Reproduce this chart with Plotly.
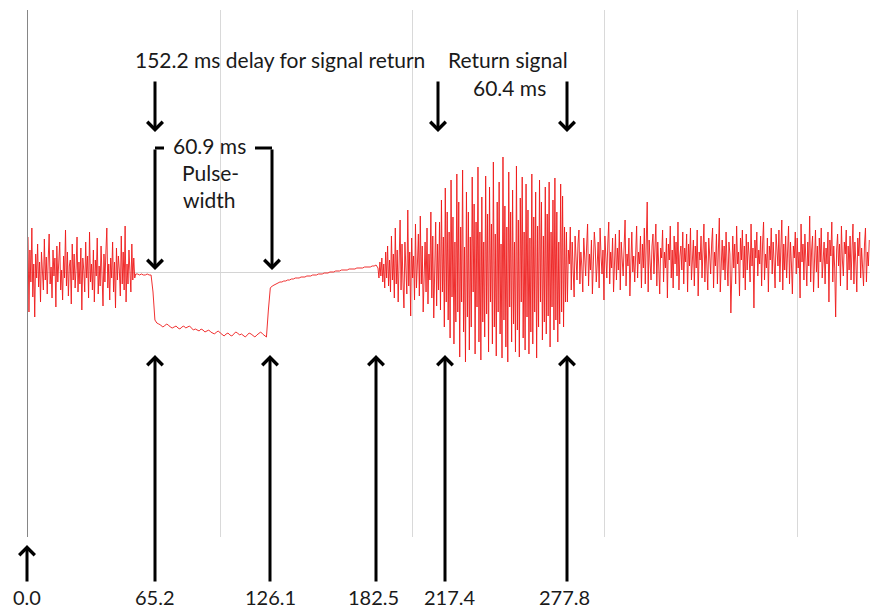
import plotly.graph_objects as go

# ---------------- data (signal amplitude) ----------------
# segment start times (ms) and sample spacing (ms) per segment
seg_starts = [0, 56, 65, 126, 182, 214, 280]
seg_steps = [0.5, 1.0, 1.0, 1.0, 0.5, 0.5, 0.5]

noise_before = [
    35, -40, 22, -10, 44, -25, 8, -45, 18, -6,
    28, -15, 10, -30, 20, 4, -18, 33, -8, 15,
    -22, 12, 38, -12, 5, -26, 22, -4, 14, -35,
    26, -10, 8, 30, -18, 2, -28, 16, -6, 42,
    -14, 20, -24, 6, 12, -32, 28, -8, 18, -16,
    4, 35, -20, 10, -12, 24, -38, 14, 2, -20,
    30, -6, 16, -26, 40, -10, 8, -18, 22, -30,
    12, -4, 34, -22, 6, -14, 26, 0, -34, 18,
    -10, 20, 44, -16, 8, -28, 14, -6, 30, -20,
    10, -36, 24, -8, 16, 2, -24, 36, -12, 20,
    -18, 46, -30, 8, -12, 22, -4, -20, 28, -8,
    14, -6,
]
quiet = [-2, -2, -3, -2, -3, -3, -2, -3, -3]
pulse = [
    -20, -48, -51, -52, -53, -55, -54, -52, -53, -55,
    -56, -55, -54, -56, -57, -55, -54, -56, -55, -54,
    -56, -58, -57, -58, -59, -57, -58, -60, -59, -58,
    -60, -61, -62, -60, -59, -61, -63, -64, -62, -61,
    -63, -64, -62, -60, -61, -63, -62, -64, -65, -63,
    -61, -62, -64, -65, -63, -61, -60, -62, -64, -65,
    -38,
]
recovery = [
    -16, -14, -13, -12, -11, -10, -10, -9, -9, -8,
    -8, -7, -7, -6, -6, -6, -5, -5, -5, -4,
    -4, -4, -3, -3, -3, -2, -2, -2, -1, -1,
    -1, 0, 0, 0, 1, 1, 1, 2, 2, 2,
    2, 3, 3, 3, 3, 4, 4, 4, 4, 5,
    5, 5, 5, 6, 6, 7,
]
echo_onset = [
    4, -6, 10, -4, 14, -10, 8, -16, 20, -6,
    26, -14, 12, -20, 36, -8, 18, -26, 44, -12,
    22, -30, 10, 52, -18, 28, -10, -36, 30, 6,
    -22, 62, -14, 20, -44, 34, -6, 16, -28, 48,
    -16, 8, 38, -24, 56, -12, 26, -40, 14, 30,
    -20, 44, -32, 18, -8, 60, -26, 36, -46, 22,
    50, -34, 28, -18,
]
echo = [
    50, -38, 72, -20, 35, -55, 84, -30, 60, -48,
    40, -66, 92, -25, 55, -72, 30, -50, 98, -40,
    70, -85, 45, -30, 102, -60, 25, -90, 80, -45,
    60, -78, 35, -55, 95, -20, 68, -82, 50, -35,
    105, -70, 40, -88, 75, -50, 30, -65, 96, -42,
    58, -80, 85, -30, 48, -72, 110, -55, 38, -84,
    70, -40, 90, -62, 28, -86, 115, -48, 66, -75,
    45, -90, 100, -35, 60, -70, 82, -52, 30, -80,
    106, -58, 52, -85, 74, -30, 95, -66, 40, -78,
    88, -45, 62, -82, 34, -60, 98, -72, 55, -40,
    80, -86, 46, -55, 92, -30, 70, -68, 36, -50,
    85, -62, 58, -44, 90, -75, 40, -35, 72, -58,
    94, -48, 60, -70, 30, -52, 88, -40, 76, -55,
    45, -30,
]
noise_after = [
    40, -30, 22, 8, 45, -18, 30, 2, -25, 36,
    14, -8, 28, 42, -12, 20, 6, -20, 34, 10,
    -4, 26, 48, -14, 18, 2, 32, -22, 12, 40,
    24, -10, 8, 30, -16, 44, 16, -2, 22, -28,
    36, 10, -6, 28, 50, -12, 20, 4, 34, -20,
    14, 38, -8, 24, 2, 42, -18, 30, 12, -4,
    26, 52, -14, 18, 6, 34, -24, 22, 40, 0,
    16, -10, 30, 46, -6, 20, 8, 36, -16, 28,
    4, 44, -12, 24, 70, -20, 32, 10, -8, 26,
    38, -2, 18, 48, -14, 30, 6, -22, 24, 14,
    42, -10, 20, 4, 34, -26, 28, 12, 46, -6,
    22, -16, 36, 8, 30, -4, 50, -18, 16, 26,
    2, 40, -12, 24, 10, 38, -20, 28, 6, 44,
    -8, 18, 32, -14, 26, 4, 42, -24, 20, 12,
    36, -6, 22, 48, -10, 30, 8, -18, 34, 16,
    -2, 28, 44, -16, 20, 6, 38, -12, 24, 54,
    -20, 14, 32, 2, 26, -8, 40, 10, -14, 30,
    18, -41, 22, 36, 4, 28, -12, 46, 8, 20,
    -24, 34, 12, 42, -6, 26, -18, 38, 2, 30,
    16, -10, 48, 6, 24, -36, 32, 14, 40, -4,
    22, 8, 36, -14, 28, 50, -8, 18, 4, 34,
    -20, 26, 12, 44, -2, 30, 10, -16, 38, 20,
    6, 42, -10, 24, 52, -18, 28, 2, 36, -6,
    18, 46, -12, 30, 8, -22, 26, 14, 40, -2,
    34, 4, 20, -26, 48, 10, 28, -8, 38, 16,
    -14, 30, 6, 56, -10, 22, 36, -20, 14, 42,
    0, 26, -16, 34, 10, 44, -6, 20, 30, -12,
    24, 8, 40, -30, 32, 16, 50, -10, 26, 4,
    -45, 22, 38, 6, 28, -14, 46, 12, -4, 30,
    18, 42, -18, 26, 2, 36, -8, 22, 48, -12,
    30, 10, -20, 34, 16, 40, -6, 24, 8, -14,
    28, 44, -10, 20, 6, 32,
]
segments = [noise_before, quiet, pulse, recovery, echo_onset, echo, noise_after]

# annotation texts
mark_labels = ["0.0", "65.2", "126.1", "182.5", "217.4", "277.8"]
delay_text = "152.2 ms delay for signal return"
return_text = "Return signal"
return_width = "60.4 ms"
pulse_width = "60.9 ms"

# ---------------- build series ----------------
t_vals, y_vals = [], []
for start, step, seg in zip(seg_starts, seg_steps, segments):
    for i, v in enumerate(seg):
        t_vals.append(start + i * step)
        y_vals.append(v)

# ---------------- layout geometry (pixels) ----------------
W, H = 870, 610
PL, PR, PT, PB = 28, 870, 10, 537
PX_PER_MS = 1.923
ZERO_PX = 272


def fx(p):
    return (p - PL) / (PR - PL)


def fy(p):
    return (PB - p) / (PB - PT)


FONT = "Lato, 'Open Sans', sans-serif"
TXT = "#1a1a1a"
FS = 21

fig = go.Figure()
fig.add_trace(go.Scatter(
    x=t_vals, y=y_vals, mode="lines",
    line=dict(color="#ee1a1a", width=0.9),
    hoverinfo="skip", showlegend=False,
))

annotations = []
shapes = []


def arrow(xp, tip_y, tail_y):
    annotations.append(dict(
        xref="paper", yref="paper", x=fx(xp), y=fy(tip_y),
        ax=0, ay=tail_y - tip_y, text="", showarrow=True,
        arrowhead=4, arrowsize=1, arrowwidth=3, arrowcolor="#000000",
        standoff=0, startstandoff=0,
    ))


def label(xp, yp, text, size=FS):
    annotations.append(dict(
        xref="paper", yref="paper", x=fx(xp), y=fy(yp),
        text=text, showarrow=False, xanchor="center", yanchor="middle",
        font=dict(family=FONT, size=size, color=TXT),
    ))


# bottom up-arrows and value labels
bottom_x = [27, 155, 270, 376, 445, 567]
label_x = [27, 155, 270, 373, 450, 564]
for i, (bx, lx, lab) in enumerate(zip(bottom_x, label_x, mark_labels)):
    if i == 0:
        arrow(bx, 545, 583)
    else:
        arrow(bx, 355, 583)
    label(lx, 597, lab, size=20)

# top down-arrows
for tx in [155, 438, 567]:
    arrow(tx, 132, 80)

# pulse-width bracket
arrow(155, 270, 148)
arrow(272, 270, 148)
for x0, x1 in [(155, 164), (255, 272)]:
    shapes.append(dict(type="line", xref="paper", yref="paper",
                       x0=fx(x0), x1=fx(x1), y0=fy(148), y1=fy(148),
                       line=dict(color="#000000", width=3)))

label(280, 60, delay_text)
label(508, 60, return_text)
label(509, 88, return_width)
label(209, 145, pulse_width)
label(210, 172, "Pulse-")
label(209, 199, "width")

fig.update_layout(
    width=W, height=H, autosize=False,
    margin=dict(l=PL, r=W - PR, t=PT, b=H - PB, pad=0),
    paper_bgcolor="white", plot_bgcolor="white",
    annotations=annotations, shapes=shapes,
    xaxis=dict(range=[0, (PR - PL) / PX_PER_MS], showgrid=True, dtick=100, tick0=0,
               gridcolor="#d9d9d9", gridwidth=1, showticklabels=False,
               ticks="", zeroline=False, showline=False),
    yaxis=dict(range=[-(PB - ZERO_PX), ZERO_PX - PT], showgrid=False,
               showticklabels=False, ticks="",
               zeroline=True, zerolinecolor="#d4d4d4", zerolinewidth=1,
               showline=True, linecolor="#868686", linewidth=1),
)

fig.write_html("out.html", config={"displayModeBar": False},
               post_script="document.body.style.margin='0px';")
